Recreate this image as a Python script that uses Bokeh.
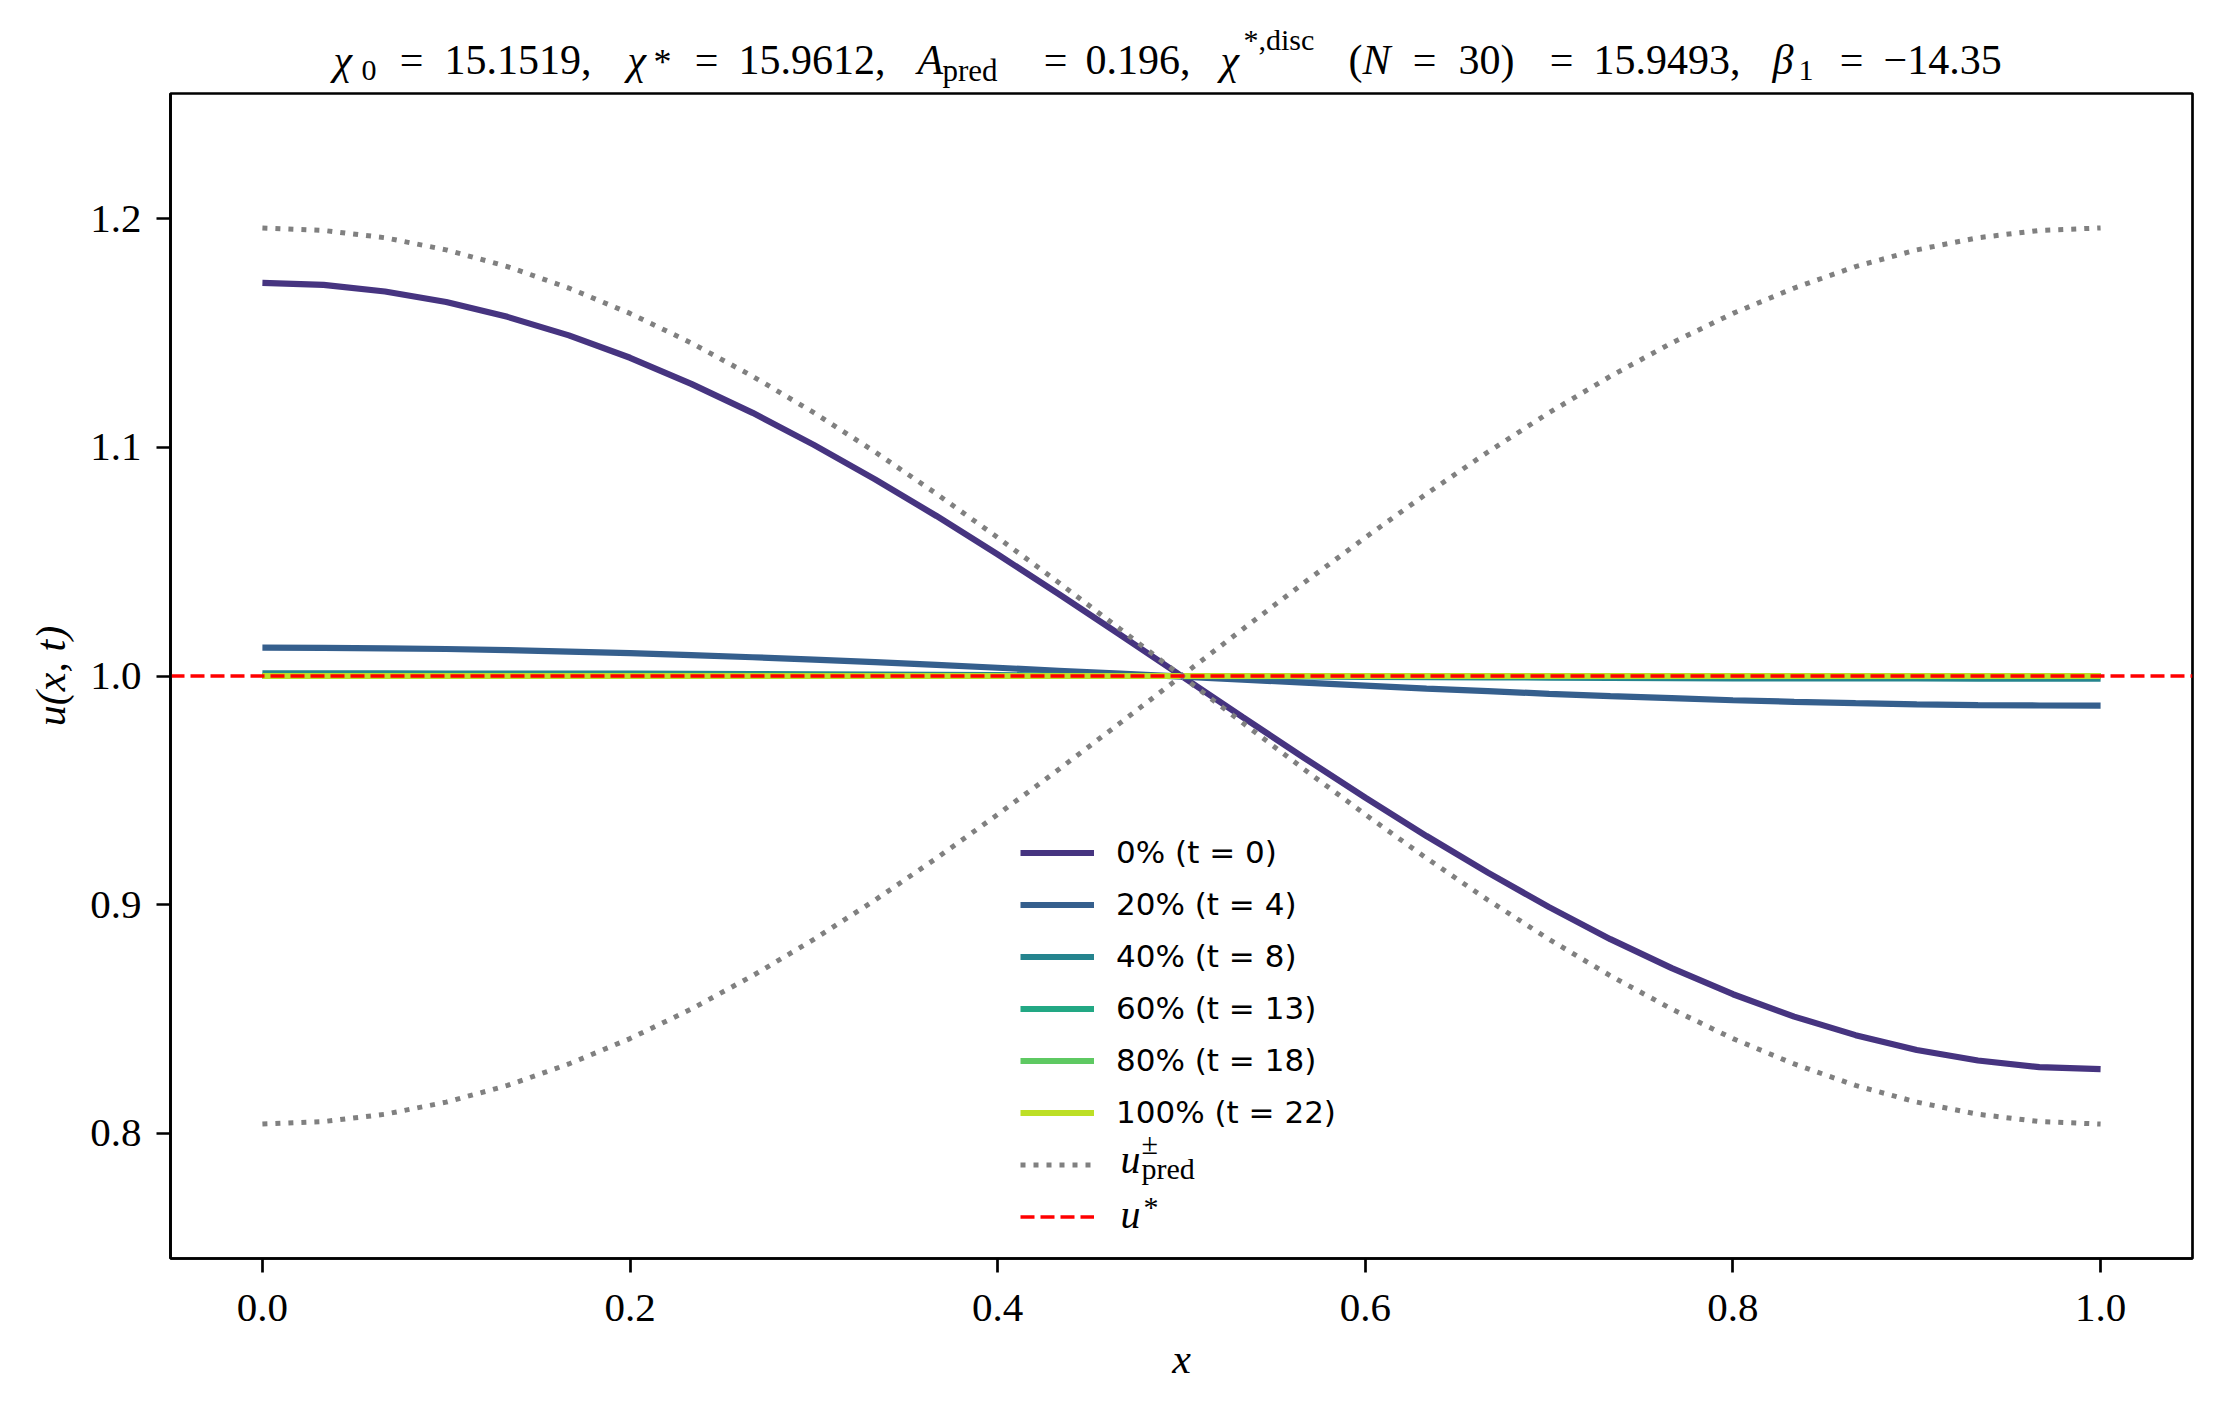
from bokeh.plotting import figure
from bokeh.layouts import column
from bokeh.models import (Range1d, FixedTicker, PrintfTickFormatter,
                          Legend, LegendItem, Label)
from bokeh.embed import file_html
from bokeh.resources import INLINE

# ---------------- data ----------------
x = [0.0, 0.0333, 0.0667, 0.1, 0.1333, 0.1667, 0.2, 0.2333, 0.2667, 0.3,
     0.3333, 0.3667, 0.4, 0.4333, 0.4667, 0.5, 0.5333, 0.5667, 0.6, 0.6333,
     0.6667, 0.7, 0.7333, 0.7667, 0.8, 0.8333, 0.8667, 0.9, 0.9333, 0.9667, 1.0]

u_0pct = [1.172, 1.1711, 1.1682, 1.1636, 1.1571, 1.149, 1.1392, 1.1278, 1.1151, 1.1011,
          1.086, 1.07, 1.0532, 1.0358, 1.018, 1.0, 0.982, 0.9642, 0.9468, 0.93,
          0.914, 0.8989, 0.8849, 0.8722, 0.8608, 0.851, 0.8429, 0.8364, 0.8318, 0.8289, 0.828]
u_20pct = [1.0124, 1.0123, 1.0121, 1.0118, 1.0113, 1.0107, 1.0100, 1.0091, 1.0082, 1.0072,
           1.0061, 1.0049, 1.0036, 1.0023, 1.0010, 0.9997, 0.9984, 0.9971, 0.9958, 0.9945,
           0.9934, 0.9922, 0.9912, 0.9903, 0.9894, 0.9887, 0.9881, 0.9876, 0.9873, 0.9871, 0.9870]
u_40pct = [1.0012, 1.0012, 1.0012, 1.0011, 1.0011, 1.001, 1.001, 1.0009, 1.0008, 1.0007,
           1.0006, 1.0005, 1.0004, 1.0002, 1.0001, 1.0, 0.9999, 0.9998, 0.9996, 0.9995,
           0.9994, 0.9993, 0.9992, 0.9991, 0.999, 0.999, 0.9989, 0.9989, 0.9988, 0.9988, 0.9988]
u_60pct = [1.0001, 1.0001, 1.0001, 1.0001, 1.0001, 1.0001, 1.0001, 1.0001, 1.0001, 1.0001,
           1.0, 1.0, 1.0, 1.0, 1.0, 1.0, 1.0, 1.0, 1.0, 1.0,
           0.9999, 0.9999, 0.9999, 0.9999, 0.9999, 0.9999, 0.9999, 0.9999, 0.9999, 0.9999, 0.9999]
u_80pct = [1.0, 1.0, 1.0, 1.0, 1.0, 1.0, 1.0, 1.0, 1.0, 1.0,
           1.0, 1.0, 1.0, 1.0, 1.0, 1.0, 1.0, 1.0, 1.0, 1.0,
           1.0, 1.0, 1.0, 1.0, 1.0, 1.0, 1.0, 1.0, 1.0, 1.0, 1.0]
u_100pct = [1.0, 1.0, 1.0, 1.0, 1.0, 1.0, 1.0, 1.0, 1.0, 1.0,
            1.0, 1.0, 1.0, 1.0, 1.0, 1.0, 1.0, 1.0, 1.0, 1.0,
            1.0, 1.0, 1.0, 1.0, 1.0, 1.0, 1.0, 1.0, 1.0, 1.0, 1.0]

u_pred_plus = [1.196, 1.1949, 1.1917, 1.1864, 1.1791, 1.1697, 1.1586, 1.1457, 1.1311, 1.1152,
               1.098, 1.0797, 1.0606, 1.0408, 1.0205, 1.0, 0.9795, 0.9592, 0.9394, 0.9203,
               0.902, 0.8848, 0.8689, 0.8543, 0.8414, 0.8303, 0.8209, 0.8136, 0.8083, 0.8051, 0.804]
u_pred_minus = [0.804, 0.8051, 0.8083, 0.8136, 0.8209, 0.8303, 0.8414, 0.8543, 0.8689, 0.8848,
                0.902, 0.9203, 0.9394, 0.9592, 0.9795, 1.0, 1.0205, 1.0408, 1.0606, 1.0797,
                1.098, 1.1152, 1.1311, 1.1457, 1.1586, 1.1697, 1.1791, 1.1864, 1.1917, 1.1949, 1.196]
u_star = 1.0

curves = [u_0pct, u_20pct, u_40pct, u_60pct, u_80pct, u_100pct]
curve_labels = ["0% (t = 0)", "20% (t = 4)", "40% (t = 8)",
                "60% (t = 13)", "80% (t = 18)", "100% (t = 22)"]
x_ticks = [0.0, 0.2, 0.4, 0.6, 0.8, 1.0]
y_ticks = [0.8, 0.9, 1.0, 1.1, 1.2]
x_lim = (-0.05, 1.05)
y_lim = (0.7452, 1.2548)

# ---------------- styles ----------------
curve_colors = ["#463480", "#355f8d", "#25848e", "#22a884", "#5ec962", "#bddf26"]
SERIF = "Liberation Serif"
W = 2204
TITLE_H = 88
MAIN_H = 1393 - TITLE_H
LEFT, RIGHT = 170, 12

# ---------------- title strip (same frame as the plot) ----------------
pt = figure(width=W, height=TITLE_H, output_backend="svg", toolbar_location=None,
            title=None, x_axis_location=None, y_axis_location=None,
            x_range=Range1d(0, 1), y_range=Range1d(0, 1),
            min_border_left=LEFT, min_border_right=RIGHT,
            min_border_top=0, min_border_bottom=0)
pt.outline_line_color = None
pt.grid.visible = False
pt.background_fill_color = "white"
pt.border_fill_color = "white"


def lab(fig, text, xs, ys, size, style="normal", align="left", font=SERIF,
        baseline="alphabetic"):
    fig.add_layout(Label(x=xs, y=ys, x_units="screen", y_units="screen", text=text,
                         text_font=font, text_font_size=size, text_font_style=style,
                         text_align=align, text_baseline=baseline,
                         text_color="black"))


M = 29      # vertical middle of the main title text (from strip bottom)
SUB = 18    # middle of subscripts
title_pieces = [
    ("χ", 333, M, "42px", "italic", "left"),
    ("0", 361, SUB, "30px", "normal", "left"),
    ("=", 411, M, "42px", "normal", "center"),
    ("15.1519,", 444, M, "42px", "normal", "left"),
    ("χ", 627, M, "42px", "italic", "left"),
    ("*", 653, 27, "36px", "normal", "left"),
    ("=", 706, M, "42px", "normal", "center"),
    ("15.9612,", 738, M, "42px", "normal", "left"),
    ("A", 917, M, "42px", "italic", "left"),
    ("pred", 942, SUB, "31px", "normal", "left"),
    ("=", 1055, M, "42px", "normal", "center"),
    ("0.196,", 1085, M, "42px", "normal", "left"),
    ("χ", 1220, M, "42px", "italic", "left"),
    ("*,disc", 1243, 49, "30px", "normal", "left"),
    ("(", 1348, M, "42px", "normal", "left"),
    ("N", 1362, M, "42px", "italic", "left"),
    ("=", 1424, M, "42px", "normal", "center"),
    ("30)", 1458, M, "42px", "normal", "left"),
    ("=", 1561, M, "42px", "normal", "center"),
    ("15.9493,", 1593, M, "42px", "normal", "left"),
    ("β", 1772, M, "42px", "italic", "left"),
    ("1", 1798, SUB, "30px", "normal", "left"),
    ("=", 1851, M, "42px", "normal", "center"),
    ("−14.35", 1883, M, "42px", "normal", "left"),
]
for text, px, py, size, style, align in title_pieces:
    lab(pt, text, px - LEFT, py, size, style, align, baseline="middle")

# ---------------- main plot ----------------
p = figure(width=W, height=MAIN_H, output_backend="svg", toolbar_location=None,
           title=None, x_range=Range1d(*x_lim), y_range=Range1d(*y_lim),
           min_border_left=LEFT, min_border_right=RIGHT, min_border_top=5,
           min_border_bottom=135)
p.background_fill_color = "white"
p.border_fill_color = "white"
p.outline_line_color = "black"
p.outline_line_width = 2.7
p.grid.visible = False

renderers = []
for ys, col in zip(curves, curve_colors):
    r = p.line(x, ys, line_color=col, line_width=6.2)
    renderers.append(r)

r_plus = p.line(x, u_pred_plus, line_color="#808080", line_width=5, line_dash="5 8")
p.line(x, u_pred_minus, line_color="#808080", line_width=5, line_dash="5 8")

# horizontal reference line u* across the full x range
r_star = p.line(list(x_lim), [u_star, u_star], line_color="#ff0000",
                line_width=3.7, line_dash="14 6")

# axes
p.xaxis.ticker = FixedTicker(ticks=x_ticks)
p.yaxis.ticker = FixedTicker(ticks=y_ticks)
p.xaxis.formatter = PrintfTickFormatter(format="%.1f")
p.yaxis.formatter = PrintfTickFormatter(format="%.1f")
for ax in (p.xaxis, p.yaxis):
    ax.major_label_text_font = SERIF
    ax.major_label_text_font_size = "41px"
    ax.major_label_text_color = "black"
    ax.major_tick_out = 14
    ax.major_tick_in = 0
    ax.major_tick_line_width = 2.7
    ax.major_tick_line_color = "black"
    ax.minor_tick_line_color = None
    ax.axis_line_width = 2.7
    ax.axis_line_color = "black"
    ax.axis_label_text_font = SERIF
    ax.axis_label_text_font_size = "42px"
    ax.axis_label_text_font_style = "italic"
    ax.axis_label_text_color = "black"
p.xaxis.major_label_standoff = 22
p.yaxis.major_label_standoff = 15
p.xaxis.axis_label = "x"
p.yaxis.axis_label = "u(x, t)"
p.xaxis.axis_label_standoff = 12
p.yaxis.axis_label_standoff = 13

# legend
items = [LegendItem(label=lb, renderers=[r]) for lb, r in zip(curve_labels, renderers)]
items.append(LegendItem(label=" ", renderers=[r_plus]))
items.append(LegendItem(label=" ", renderers=[r_star]))
legend = Legend(items=items, location=(850, 19.5), glyph_width=74, glyph_height=45,
                label_height=45, spacing=7, padding=10, label_standoff=22, margin=0,
                label_text_font="DejaVu Sans", label_text_font_size="31px",
                label_text_color="black",
                background_fill_alpha=0, border_line_color=None)
p.add_layout(legend)

# legend math labels (u^±_pred, u^*)
lab(p, "u", 950, 99, "40px", "italic")
lab(p, "±", 971, 115, "30px")
lab(p, "pred", 971, 90, "30px")
lab(p, "u", 950, 44, "40px", "italic")
lab(p, "*", 973, 52, "30px")

layout = column(pt, p, spacing=0)
open("out.html", "w").write(file_html(layout, INLINE))
